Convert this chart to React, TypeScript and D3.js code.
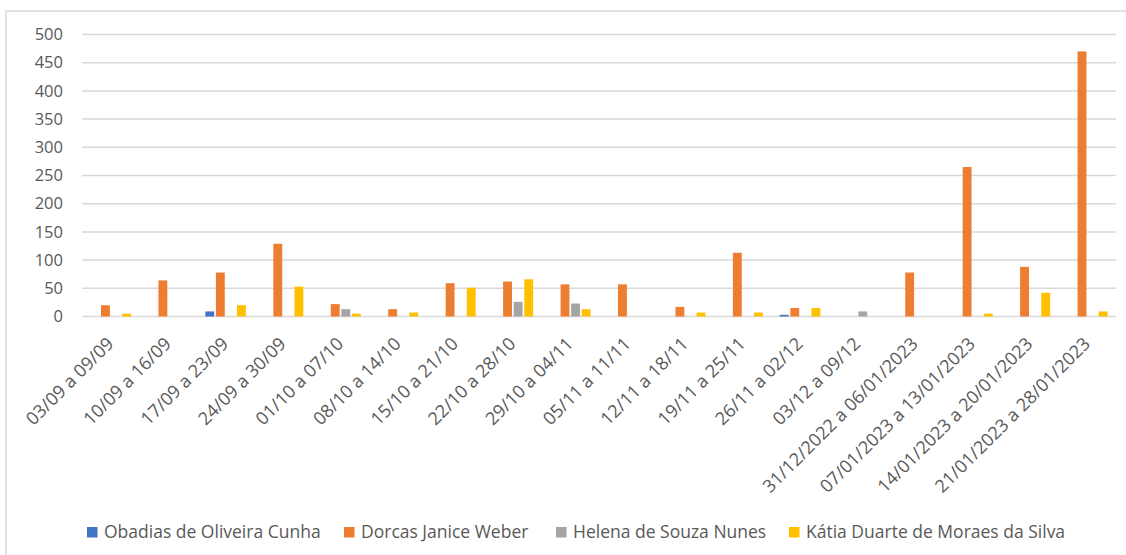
import React from "react";
import * as d3 from "d3";

const categories = [
  "03/09 a 09/09", "10/09 a 16/09", "17/09 a 23/09", "24/09 a 30/09",
  "01/10 a 07/10", "08/10 a 14/10", "15/10 a 21/10", "22/10 a 28/10",
  "29/10 a 04/11", "05/11 a 11/11", "12/11 a 18/11", "19/11 a 25/11",
  "26/11 a 02/12", "03/12 a 09/12", "31/12/2022 a 06/01/2023",
  "07/01/2023 a 13/01/2023", "14/01/2023 a 20/01/2023", "21/01/2023 a 28/01/2023",
];

const seriesNames = [
  "Obadias de Oliveira Cunha",
  "Dorcas Janice Weber",
  "Helena de Souza Nunes",
  "Kátia Duarte de Moraes da Silva",
];

const obadias = [0, 0, 9, 0, 0, 0, 0, 0, 0, 0, 0, 0, 3, 0, 0, 0, 0, 0];
const dorcas = [20, 64, 78, 129, 22, 13, 59, 62, 57, 57, 17, 113, 15, 0, 78, 265, 88, 470];
const helena = [0, 0, 0, 0, 13, 0, 0, 26, 23, 0, 0, 0, 0, 9, 0, 0, 0, 0];
const katia = [5, 0, 20, 53, 5, 7, 51, 66, 13, 0, 7, 7, 15, 0, 0, 5, 42, 9];

const yTicks = [0, 50, 100, 150, 200, 250, 300, 350, 400, 450, 500];

const colors = ["#4472C4", "#ED7D31", "#A5A5A5", "#FFC000"];

const W = 1126;
const H = 555;
const plot = { left: 82, right: 1116, top: 34.5, bottom: 316.5 };
const FONT = "'Open Sans', sans-serif";
const TEXT = "#595959";

export default function App() {
  const allSeries = [obadias, dorcas, helena, katia];
  const x = d3.scaleBand<string>().domain(categories).range([plot.left, plot.right]).paddingInner(0).paddingOuter(0);
  const inner = d3.scaleBand<number>().domain([0, 1, 2, 3]).range([0, x.bandwidth()]).paddingOuter(0.8).paddingInner(0.16);
  const y = d3.scaleLinear().domain([0, 500]).range([plot.bottom, plot.top]);

  const legendX = [87, 344, 556, 789];

  return (
    <svg width={W} height={H} style={{ position: "absolute", left: 0, top: 0, background: "#fff" }}>
      <rect x={6} y={11} width={W} height={H} fill="#fff" stroke="#d9d9d9" strokeWidth={1.5} />
      {yTicks.map((t) => (
        <g key={t}>
          <line x1={plot.left} x2={plot.right} y1={y(t)} y2={y(t)} stroke="#d9d9d9" strokeWidth={1.5} />
          <text x={63} y={y(t)} dy="0.35em" textAnchor="end" fontFamily={FONT} fontSize={16.5} fill={TEXT}>
            {t}
          </text>
        </g>
      ))}
      {categories.map((c, i) => (
        <g key={c}>
          {allSeries.map((s, k) =>
            s[i] > 0 ? (
              <rect
                key={k}
                x={(x(c) as number) + (inner(k) as number)}
                y={y(s[i])}
                width={inner.bandwidth()}
                height={y(0) - y(s[i])}
                fill={colors[k]}
              />
            ) : null
          )}
          <text
            transform={`translate(${(x(c) as number) + x.bandwidth() / 2 + 4},${345}) rotate(-45)`}
            textAnchor="end"
            fontFamily={FONT}
            fontSize={18}
            fill={TEXT}
          >
            {c}
          </text>
        </g>
      ))}
      {seriesNames.map((n, k) => (
        <g key={n}>
          <rect x={legendX[k]} y={527} width={10.5} height={10.5} fill={colors[k]} />
          <text x={legendX[k] + 17} y={532} dy="0.35em" fontFamily={FONT} fontSize={17.5} fill={TEXT}>
            {n}
          </text>
        </g>
      ))}
    </svg>
  );
}
